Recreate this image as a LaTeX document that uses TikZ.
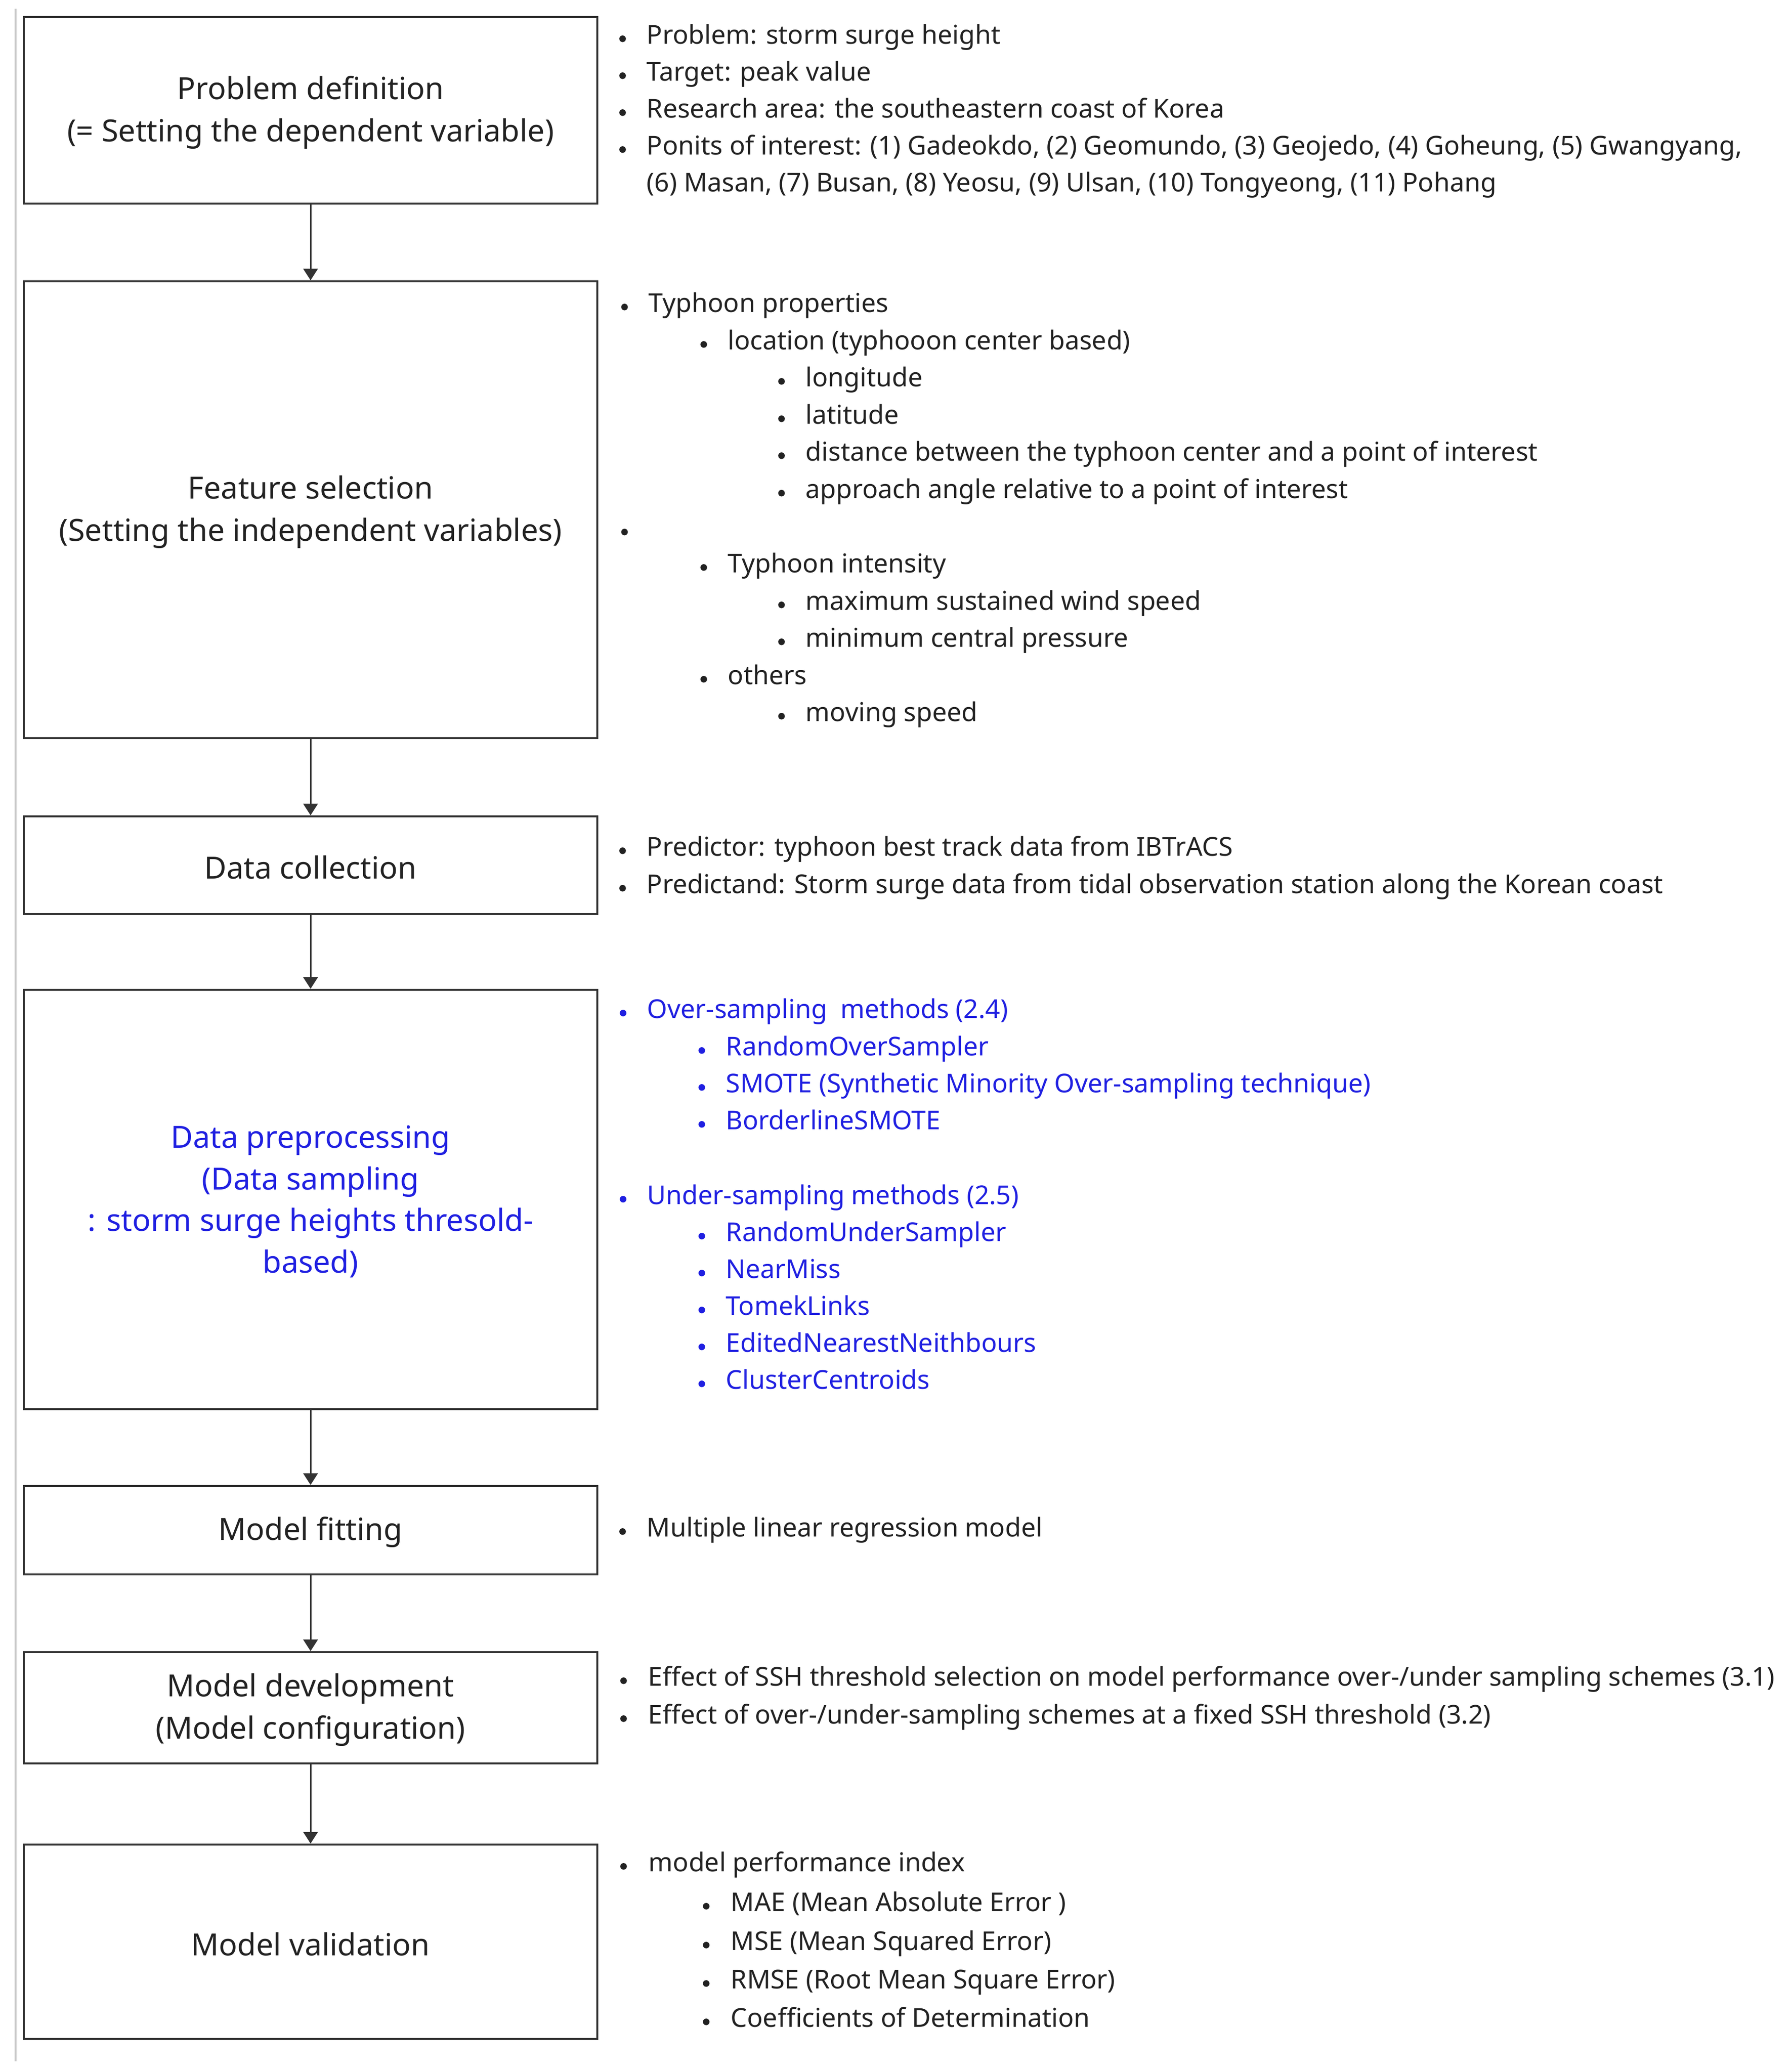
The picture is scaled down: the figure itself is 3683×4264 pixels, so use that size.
\documentclass[tikz,border=0pt]{standalone}
\usepackage{fontspec}
\setmainfont{Noto Sans}
\usetikzlibrary{arrows.meta}
\definecolor{ink}{HTML}{222222}
\definecolor{edge}{HTML}{333333}
\definecolor{bluetxt}{RGB}{32,32,225}
\newcommand\bitem[6]{%
  \node[bdot,fill=#6] (#1d) at (#2,#4) {};
  \node[btxt,text=#6] (#1) at (#3,#4) {#5};}
\begin{document}
\begin{tikzpicture}[x=0.25pt,y=-0.25pt,
  box/.style={draw=edge, line width=1.1pt, rectangle, inner sep=0pt,
    minimum width=295pt},
  lbl/.style={align=center, text=ink, inner sep=0pt, yshift=-1.1pt,
    font=\fontsize{15.7pt}{21.8pt}\selectfont},
  btxt/.style={anchor=mid west, inner sep=0pt, yshift=-2.2pt,
    font=\fontsize{13.36pt}{19pt}\selectfont},
  bdot/.style={circle, inner sep=0pt, minimum size=3.4pt, yshift=-2.2pt},
  arr/.style={draw=edge, line width=0.75pt, -{Triangle[length=6pt,width=7.5pt]}}]
\useasboundingbox (0,0) rectangle (3683,4264);
\draw[black!22, line width=0.8pt] (32,18) -- (32,4242);

% boxes
\node[box, minimum height=96pt, label={[lbl, name=t1]center:{Problem definition\\(= Setting the dependent variable)}}] (p1) at (639,227) {};
\node[box, minimum height=235pt, label={[lbl, name=t2]center:{Feature selection\\(Setting the independent variables)}}] (p2) at (639,1049) {};
\node[box, minimum height=50.25pt, label={[lbl, name=t3]center:{Data collection}}] (p3) at (639,1780.5) {};
\node[box, minimum height=215.75pt, label={[lbl, name=t4, text=bluetxt, font=\fontsize{15.7pt}{21.4pt}\selectfont]center:{Data preprocessing\\(Data sampling\\: storm surge heights thresold-\\based)}}] (p4) at (639,2468.5) {};
\node[box, minimum height=45.5pt, label={[lbl, name=t5]center:{Model fitting}}] (p5) at (639,3149) {};
\node[box, minimum height=57.25pt, label={[lbl, name=t6]center:{Model development\\(Model configuration)}}] (p6) at (639,3514.5) {};
\node[box, minimum height=100pt, label={[lbl, name=t7]center:{Model validation}}] (p7) at (639,3996) {};

\draw[arr] (p1) -- (p2);
\draw[arr] (p2) -- (p3);
\draw[arr] (p3) -- (p4);
\draw[arr] (p4) -- (p5);
\draw[arr] (p5) -- (p6);
\draw[arr] (p6) -- (p7);

% box 1 list
\bitem{a1}{1281}{1330}{71}{Problem: storm surge height}{ink}
\bitem{a2}{1281}{1330}{147}{Target: peak value}{ink}
\bitem{a3}{1281}{1330}{223}{Research area: the southeastern coast of Korea}{ink}
\bitem{a4}{1281}{1330}{299}{Ponits of interest: (1) Gadeokdo, (2) Geomundo, (3) Geojedo, (4) Goheung, (5) Gwangyang,}{ink}
\node[btxt, text=ink] (a5) at (1330,375) {(6) Masan, (7) Busan, (8) Yeosu, (9) Ulsan, (10) Tongyeong, (11) Pohang};

% box 2 list
\bitem{b1}{1285}{1334}{623}{Typhoon properties}{ink}
\bitem{b2}{1448}{1497}{700}{location (typhooon center based)}{ink}
\bitem{b3}{1608}{1657}{776}{longitude}{ink}
\bitem{b4}{1608}{1657}{853}{latitude}{ink}
\bitem{b5}{1608}{1657}{929}{distance between the typhoon center and a point of interest}{ink}
\bitem{b6}{1608}{1657}{1006}{approach angle relative to a point of interest}{ink}
\node[bdot, fill=ink] (b7d) at (1285,1086) {};
\bitem{b8}{1448}{1497}{1159}{Typhoon intensity}{ink}
\bitem{b9}{1608}{1657}{1236}{maximum sustained wind speed}{ink}
\bitem{b10}{1608}{1657}{1312}{minimum central pressure}{ink}
\bitem{b11}{1448}{1497}{1389}{others}{ink}
\bitem{b12}{1608}{1657}{1465}{moving speed}{ink}

% box 3 list
\bitem{c1}{1281}{1330}{1742}{Predictor: typhoon best track data from IBTrACS}{ink}
\bitem{c2}{1281}{1330}{1819}{Predictand: Storm surge data from tidal observation station along the Korean coast}{ink}

% box 4 list
\bitem{d1}{1282}{1331}{2076}{Over-sampling\ \ methods (2.4)}{bluetxt}
\bitem{d2}{1444}{1493}{2153}{RandomOverSampler}{bluetxt}
\bitem{d3}{1444}{1493}{2229}{SMOTE (Synthetic Minority Over-sampling technique)}{bluetxt}
\bitem{d4}{1444}{1493}{2305}{BorderlineSMOTE}{bluetxt}
\bitem{d5}{1282}{1331}{2459}{Under-sampling methods (2.5)}{bluetxt}
\bitem{d6}{1444}{1493}{2535}{RandomUnderSampler}{bluetxt}
\bitem{d7}{1444}{1493}{2611}{NearMiss}{bluetxt}
\bitem{d8}{1444}{1493}{2687}{TomekLinks}{bluetxt}
\bitem{d9}{1444}{1493}{2763}{EditedNearestNeithbours}{bluetxt}
\bitem{d10}{1444}{1493}{2839}{ClusterCentroids}{bluetxt}

% box 5 list
\bitem{e1}{1281}{1330}{3143}{Multiple linear regression model}{ink}

% box 6 list
\bitem{f1}{1283}{1333}{3450}{Effect of SSH threshold selection on model performance over-/under sampling schemes (3.1)}{ink}
\bitem{f2}{1283}{1333}{3528}{Effect of over-/under-sampling schemes at a fixed SSH threshold (3.2)}{ink}

% box 7 list
\bitem{g1}{1283}{1334}{3832}{model performance index}{ink}
\bitem{g2}{1453}{1503}{3914}{MAE (Mean Absolute Error )}{ink}
\bitem{g3}{1453}{1503}{3994}{MSE (Mean Squared Error)}{ink}
\bitem{g4}{1453}{1503}{4073}{RMSE (Root Mean Square Error)}{ink}
\bitem{g5}{1453}{1503}{4152}{Coefficients of Determination}{ink}
\end{tikzpicture}
\end{document}
